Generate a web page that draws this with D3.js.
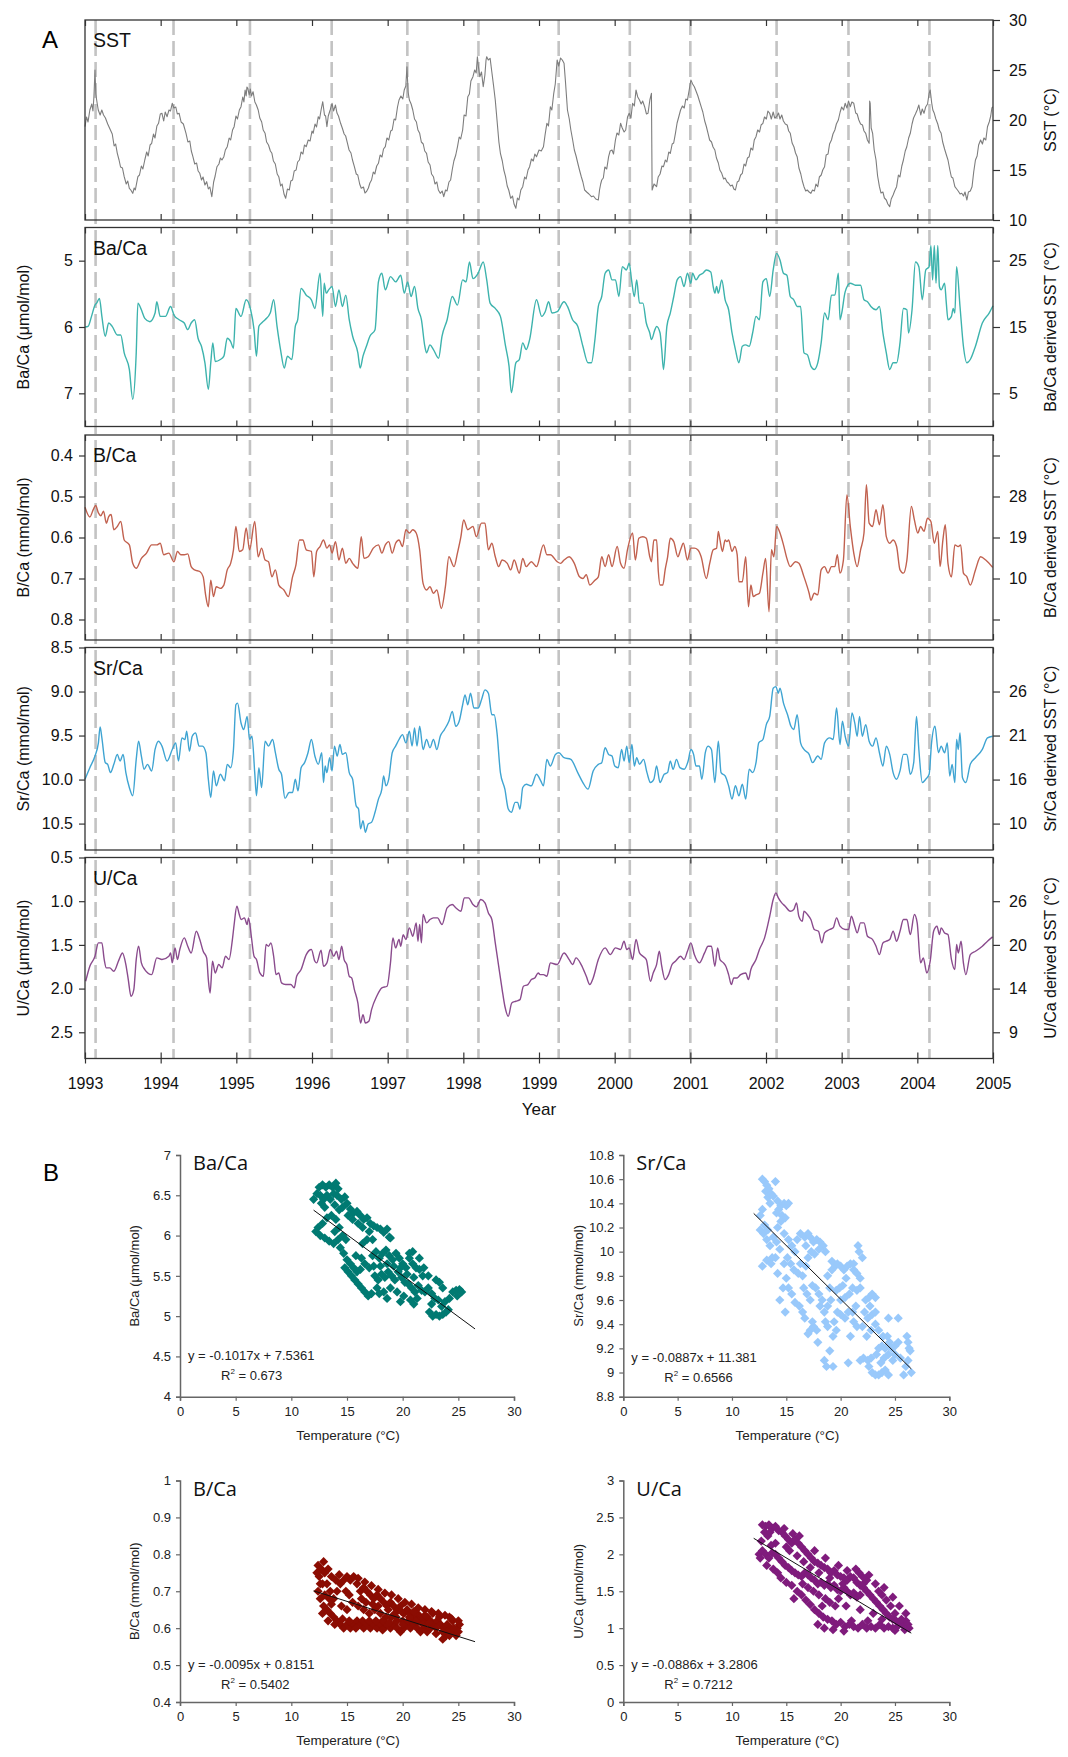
<!DOCTYPE html>
<html><head><meta charset="utf-8">
<script src="https://cdn.jsdelivr.net/npm/d3@7"></script>
<style>body{margin:0;background:#fff}svg{display:block}</style>
</head><body><svg id="chart" width="1068" height="1757"></svg>
<script>
// ---------- Panel A: time series (decimal year, value) ----------
const yearTicks = [1993,1994,1995,1996,1997,1998,1999,2000,2001,2002,2003,2004,2005];
const eventDates = [1993.14,1994.17,1995.18,1996.26,1997.26,1998.20,1999.26,2000.20,2001.00,2002.14,2003.09,2004.16];

const sstSeries = [[1993.000,19.33],[1993.020,20.3],[1993.040,19.8],[1993.064,21.0],[1993.090,21.6],[1993.105,20.9],[1993.118,22.33],[1993.132,25.0],[1993.143,22.6],[1993.154,22.0],[1993.175,21.0],[1993.200,20.5],[1993.222,21.0],[1993.245,20.5],[1993.270,20.2],[1993.300,19.6],[1993.336,19.0],[1993.360,18.6],[1993.385,17.4],[1993.405,17.6],[1993.427,16.67],[1993.450,16.0],[1993.470,15.3],[1993.495,15.2],[1993.518,14.33],[1993.545,13.6],[1993.565,13.9],[1993.586,13.17],[1993.605,13.0],[1993.631,12.67],[1993.650,13.2],[1993.665,13.0],[1993.699,14.33],[1993.720,14.5],[1993.745,15.4],[1993.765,15.1],[1993.790,16.0],[1993.815,16.8],[1993.835,16.4],[1993.860,17.5],[1993.881,17.67],[1993.905,18.6],[1993.925,18.2],[1993.950,19.4],[1993.972,19.67],[1993.995,20.6],[1994.017,20.67],[1994.040,19.9],[1994.060,20.8],[1994.085,20.33],[1994.110,21.0],[1994.130,20.9],[1994.153,21.67],[1994.175,21.2],[1994.200,21.3],[1994.220,20.6],[1994.244,20.67],[1994.270,19.8],[1994.300,19.6],[1994.335,18.67],[1994.360,17.8],[1994.385,17.9],[1994.405,16.9],[1994.426,16.33],[1994.450,15.6],[1994.475,15.7],[1994.495,14.9],[1994.517,14.67],[1994.540,14.0],[1994.560,14.3],[1994.585,13.5],[1994.608,13.83],[1994.630,13.1],[1994.650,13.3],[1994.676,12.33],[1994.700,13.8],[1994.720,14.4],[1994.744,15.33],[1994.770,15.6],[1994.790,16.2],[1994.810,16.0],[1994.835,16.33],[1994.855,17.0],[1994.880,17.33],[1994.905,18.2],[1994.925,18.0],[1994.950,19.0],[1994.971,19.33],[1994.995,20.4],[1995.015,20.1],[1995.040,21.0],[1995.062,21.33],[1995.085,22.3],[1995.100,21.8],[1995.116,23.0],[1995.130,22.4],[1995.140,23.3],[1995.152,23.17],[1995.170,22.5],[1995.185,23.1],[1995.200,22.4],[1995.221,22.83],[1995.245,21.8],[1995.265,21.5],[1995.289,21.0],[1995.310,20.2],[1995.335,19.8],[1995.355,19.0],[1995.380,18.67],[1995.400,17.8],[1995.425,17.5],[1995.450,16.9],[1995.470,16.67],[1995.490,15.9],[1995.515,15.6],[1995.540,14.6],[1995.561,14.33],[1995.585,13.4],[1995.605,13.6],[1995.630,12.6],[1995.652,12.17],[1995.675,13.1],[1995.700,13.0],[1995.720,13.9],[1995.743,14.0],[1995.765,14.9],[1995.790,15.0],[1995.810,15.8],[1995.834,16.0],[1995.855,16.8],[1995.880,16.6],[1995.900,17.5],[1995.924,17.33],[1995.950,18.0],[1995.975,17.9],[1996.000,18.9],[1996.015,18.67],[1996.040,19.6],[1996.060,19.3],[1996.083,20.33],[1996.100,20.1],[1996.120,21.0],[1996.142,21.83],[1996.165,20.5],[1996.180,20.4],[1996.197,19.33],[1996.215,20.4],[1996.240,21.0],[1996.265,21.67],[1996.285,20.9],[1996.310,21.5],[1996.330,20.7],[1996.350,20.4],[1996.378,19.67],[1996.400,19.2],[1996.425,18.6],[1996.445,18.4],[1996.469,17.67],[1996.490,17.0],[1996.515,16.7],[1996.535,16.0],[1996.560,15.33],[1996.585,14.6],[1996.605,14.5],[1996.630,13.6],[1996.651,13.17],[1996.680,13.3],[1996.700,12.7],[1996.719,12.83],[1996.745,13.2],[1996.765,13.7],[1996.787,14.0],[1996.810,14.8],[1996.830,14.6],[1996.855,15.4],[1996.878,15.67],[1996.900,16.5],[1996.925,16.3],[1996.945,17.1],[1996.969,17.33],[1996.990,18.2],[1997.015,18.0],[1997.040,18.9],[1997.060,19.0],[1997.085,20.1],[1997.105,20.0],[1997.130,21.3],[1997.150,22.0],[1997.175,22.4],[1997.200,22.1],[1997.219,23.0],[1997.240,23.4],[1997.255,25.33],[1997.270,22.8],[1997.287,22.0],[1997.310,21.6],[1997.332,21.0],[1997.355,20.1],[1997.380,19.8],[1997.400,19.0],[1997.423,18.67],[1997.445,17.8],[1997.470,17.6],[1997.490,16.9],[1997.514,16.67],[1997.535,15.8],[1997.560,15.5],[1997.580,14.6],[1997.605,14.33],[1997.625,13.6],[1997.650,13.8],[1997.670,13.0],[1997.695,12.67],[1997.720,12.9],[1997.741,12.33],[1997.765,13.0],[1997.785,12.9],[1997.810,13.8],[1997.832,14.0],[1997.855,15.1],[1997.875,15.9],[1997.900,16.5],[1997.923,17.33],[1997.945,18.3],[1997.965,18.1],[1997.991,19.0],[1998.010,20.5],[1998.035,20.4],[1998.059,22.33],[1998.080,22.6],[1998.100,23.9],[1998.127,24.33],[1998.150,25.0],[1998.170,24.7],[1998.186,26.33],[1998.200,25.3],[1998.218,24.33],[1998.240,24.8],[1998.263,23.33],[1998.285,24.5],[1998.300,26.0],[1998.309,26.33],[1998.330,26.0],[1998.354,26.17],[1998.380,24.6],[1998.400,23.4],[1998.422,22.0],[1998.445,20.0],[1998.470,17.8],[1998.490,16.67],[1998.515,15.9],[1998.535,15.0],[1998.558,14.33],[1998.580,13.4],[1998.600,13.0],[1998.626,12.17],[1998.650,12.4],[1998.670,11.6],[1998.694,11.17],[1998.715,12.2],[1998.735,12.0],[1998.760,13.0],[1998.785,13.33],[1998.810,14.3],[1998.830,14.1],[1998.855,15.0],[1998.876,15.33],[1998.900,16.1],[1998.925,15.9],[1998.945,16.6],[1998.967,16.33],[1999.000,17.0],[1999.030,16.9],[1999.059,17.33],[1999.080,18.5],[1999.104,19.67],[1999.125,19.4],[1999.150,21.33],[1999.170,21.0],[1999.195,22.67],[1999.215,23.6],[1999.240,26.0],[1999.260,25.4],[1999.285,26.2],[1999.308,26.0],[1999.331,25.67],[1999.350,23.8],[1999.376,21.0],[1999.400,20.1],[1999.421,19.0],[1999.445,18.0],[1999.467,17.0],[1999.490,16.4],[1999.512,15.7],[1999.535,15.0],[1999.560,14.3],[1999.580,13.8],[1999.603,13.0],[1999.630,12.8],[1999.660,12.6],[1999.693,12.33],[1999.720,12.4],[1999.750,12.1],[1999.784,12.0],[1999.800,13.0],[1999.815,13.6],[1999.829,14.0],[1999.850,14.2],[1999.870,15.3],[1999.895,15.1],[1999.920,16.33],[1999.940,16.9],[1999.965,17.0],[1999.985,16.6],[2000.010,18.0],[2000.030,18.7],[2000.055,18.5],[2000.078,19.67],[2000.100,19.2],[2000.125,18.8],[2000.146,19.0],[2000.170,20.3],[2000.192,20.67],[2000.215,20.2],[2000.237,21.67],[2000.260,21.4],[2000.282,23.0],[2000.305,22.3],[2000.328,22.0],[2000.350,21.6],[2000.370,21.9],[2000.396,21.33],[2000.420,20.6],[2000.441,20.67],[2000.465,22.0],[2000.486,22.67],[2000.495,13.0],[2000.520,13.6],[2000.554,13.33],[2000.575,14.3],[2000.600,14.6],[2000.625,15.4],[2000.645,15.33],[2000.670,16.0],[2000.690,15.8],[2000.715,16.8],[2000.735,16.67],[2000.760,17.6],[2000.780,17.7],[2000.803,18.67],[2000.825,19.7],[2000.850,20.4],[2000.871,21.0],[2000.895,21.4],[2000.920,21.2],[2000.940,22.1],[2000.962,22.0],[2000.985,23.0],[2001.007,24.0],[2001.030,23.6],[2001.053,23.33],[2001.075,22.9],[2001.100,22.4],[2001.120,21.9],[2001.143,21.33],[2001.165,20.8],[2001.190,19.9],[2001.210,19.4],[2001.234,18.67],[2001.255,18.0],[2001.280,17.8],[2001.300,17.3],[2001.324,17.0],[2001.345,16.2],[2001.370,15.7],[2001.390,15.0],[2001.415,14.67],[2001.440,14.1],[2001.460,14.2],[2001.485,13.8],[2001.506,13.67],[2001.530,13.4],[2001.555,13.5],[2001.575,13.1],[2001.596,13.0],[2001.620,13.8],[2001.640,13.9],[2001.665,14.5],[2001.687,14.67],[2001.710,15.6],[2001.730,15.4],[2001.755,16.2],[2001.778,16.33],[2001.800,17.2],[2001.825,17.0],[2001.845,18.0],[2001.868,18.33],[2001.890,19.0],[2001.915,18.8],[2001.935,19.5],[2001.959,19.67],[2001.980,20.3],[2002.005,20.1],[2002.025,20.9],[2002.049,20.67],[2002.070,20.1],[2002.095,20.8],[2002.115,20.2],[2002.140,20.33],[2002.165,20.7],[2002.185,20.1],[2002.208,20.5],[2002.230,19.9],[2002.255,19.6],[2002.280,19.5],[2002.300,18.9],[2002.321,18.67],[2002.345,17.7],[2002.370,17.3],[2002.390,16.7],[2002.412,16.33],[2002.435,15.2],[2002.460,14.6],[2002.480,13.9],[2002.502,13.33],[2002.525,12.9],[2002.545,13.0],[2002.570,12.8],[2002.593,12.67],[2002.615,13.0],[2002.640,12.9],[2002.660,13.6],[2002.684,13.33],[2002.705,14.3],[2002.730,14.5],[2002.750,15.0],[2002.774,15.33],[2002.795,16.5],[2002.820,16.6],[2002.840,17.6],[2002.865,18.0],[2002.885,18.6],[2002.910,19.0],[2002.930,19.6],[2002.956,20.0],[2002.980,20.8],[2003.000,21.3],[2003.025,21.0],[2003.046,21.67],[2003.070,21.2],[2003.090,21.9],[2003.114,21.33],[2003.135,21.8],[2003.160,21.67],[2003.185,20.7],[2003.205,20.6],[2003.227,20.0],[2003.250,19.6],[2003.275,19.5],[2003.295,18.9],[2003.318,18.67],[2003.340,18.0],[2003.363,17.67],[2003.370,21.9],[2003.377,21.67],[2003.390,19.2],[2003.409,18.67],[2003.430,17.0],[2003.454,16.0],[2003.475,14.4],[2003.499,13.33],[2003.520,12.7],[2003.545,12.8],[2003.565,12.2],[2003.590,12.0],[2003.610,11.6],[2003.635,11.33],[2003.655,12.1],[2003.680,12.5],[2003.700,12.9],[2003.726,13.33],[2003.750,14.5],[2003.770,14.3],[2003.795,15.4],[2003.816,16.0],[2003.840,16.9],[2003.860,17.3],[2003.885,18.2],[2003.907,18.67],[2003.930,19.6],[2003.950,20.2],[2003.975,20.6],[2003.998,21.0],[2004.020,21.5],[2004.045,20.5],[2004.065,21.1],[2004.088,20.67],[2004.110,21.3],[2004.135,21.6],[2004.156,22.67],[2004.170,23.0],[2004.190,21.7],[2004.205,21.0],[2004.224,20.67],[2004.245,20.1],[2004.270,19.6],[2004.290,19.0],[2004.315,18.67],[2004.335,17.8],[2004.360,17.1],[2004.380,16.6],[2004.405,16.0],[2004.430,15.0],[2004.450,14.3],[2004.470,14.2],[2004.496,13.33],[2004.520,13.1],[2004.540,12.9],[2004.565,12.6],[2004.587,12.67],[2004.610,12.4],[2004.630,12.8],[2004.655,12.0],[2004.675,12.8],[2004.700,12.9],[2004.723,13.33],[2004.745,14.8],[2004.768,16.0],[2004.790,16.4],[2004.810,17.5],[2004.836,18.0],[2004.860,17.6],[2004.880,18.2],[2004.905,18.0],[2004.927,19.33],[2004.950,19.8],[2004.970,20.4],[2004.985,21.2],[2004.995,21.33]];

const baCaSeries = [[1993.000,6.00],[1993.041,5.99],[1993.086,5.84],[1993.132,5.67],[1993.154,5.64],[1993.191,5.57],[1993.223,5.84],[1993.268,6.14],[1993.313,5.94],[1993.359,5.99],[1993.427,6.12],[1993.472,6.12],[1993.518,6.39],[1993.586,6.64],[1993.631,7.09],[1993.677,6.39],[1993.699,5.64],[1993.745,5.74],[1993.790,5.87],[1993.858,5.92],[1993.926,5.79],[1993.949,5.62],[1993.994,5.84],[1994.063,5.84],[1994.131,5.69],[1994.176,5.82],[1994.244,5.89],[1994.312,5.94],[1994.358,6.04],[1994.403,5.94],[1994.449,5.89],[1994.494,6.17],[1994.539,6.29],[1994.585,6.54],[1994.630,6.94],[1994.662,6.54],[1994.689,6.24],[1994.721,6.52],[1994.789,6.49],[1994.835,6.44],[1994.880,6.17],[1994.925,6.22],[1994.962,6.32],[1994.994,5.72],[1995.062,5.84],[1995.130,5.59],[1995.189,5.74],[1995.234,6.04],[1995.266,6.44],[1995.298,5.99],[1995.334,5.94],[1995.380,5.89],[1995.448,5.79],[1995.493,5.59],[1995.538,5.99],[1995.584,6.34],[1995.634,6.62],[1995.675,6.44],[1995.734,6.49],[1995.779,5.99],[1995.811,5.89],[1995.856,5.42],[1995.924,5.52],[1995.992,5.59],[1996.038,5.72],[1996.106,5.19],[1996.142,5.84],[1996.161,5.34],[1996.188,5.49],[1996.220,5.44],[1996.265,5.39],[1996.310,5.69],[1996.356,5.44],[1996.401,5.69],[1996.447,5.52],[1996.492,5.89],[1996.537,6.14],[1996.606,6.39],[1996.637,6.62],[1996.674,6.44],[1996.719,6.29],[1996.765,6.14],[1996.833,6.04],[1996.878,5.32],[1996.923,5.19],[1996.969,5.44],[1997.037,5.24],[1997.105,5.32],[1997.173,5.22],[1997.219,5.49],[1997.264,5.32],[1997.309,5.54],[1997.355,5.39],[1997.400,5.72],[1997.446,5.89],[1997.491,6.29],[1997.514,6.39],[1997.559,6.27],[1997.605,6.34],[1997.673,6.47],[1997.718,6.14],[1997.786,5.89],[1997.854,5.54],[1997.922,5.67],[1997.991,5.29],[1998.036,5.32],[1998.081,5.02],[1998.127,5.27],[1998.195,5.19],[1998.263,5.02],[1998.309,5.29],[1998.354,5.64],[1998.422,5.72],[1998.490,5.84],[1998.558,6.29],[1998.604,6.59],[1998.635,6.99],[1998.694,6.54],[1998.740,6.49],[1998.785,6.24],[1998.831,6.34],[1998.876,6.19],[1998.967,5.59],[1999.036,5.84],[1999.082,5.77],[1999.127,5.62],[1999.172,5.79],[1999.240,5.77],[1999.331,5.62],[1999.376,5.69],[1999.444,5.89],[1999.512,5.99],[1999.580,6.29],[1999.648,6.54],[1999.693,6.54],[1999.739,6.19],[1999.784,5.69],[1999.829,5.54],[1999.874,5.19],[1999.920,5.14],[1999.965,5.29],[2000.010,5.29],[2000.056,5.54],[2000.101,5.09],[2000.155,5.14],[2000.192,5.04],[2000.223,5.29],[2000.260,5.54],[2000.291,5.29],[2000.328,5.64],[2000.373,5.64],[2000.418,5.94],[2000.464,6.09],[2000.486,6.19],[2000.532,6.04],[2000.554,5.99],[2000.600,6.09],[2000.622,6.34],[2000.645,6.64],[2000.690,5.99],[2000.735,5.79],[2000.781,5.54],[2000.826,5.29],[2000.871,5.24],[2000.917,5.39],[2000.962,5.19],[2001.007,5.34],[2001.030,5.19],[2001.075,5.29],[2001.120,5.22],[2001.166,5.19],[2001.211,5.14],[2001.270,5.17],[2001.302,5.39],[2001.324,5.49],[2001.347,5.39],[2001.370,5.49],[2001.415,5.29],[2001.460,5.59],[2001.506,5.74],[2001.551,6.09],[2001.596,6.34],[2001.642,6.54],[2001.687,6.29],[2001.732,6.27],[2001.778,6.29],[2001.823,6.09],[2001.868,5.84],[2001.913,5.89],[2001.959,5.32],[2002.004,5.27],[2002.049,5.54],[2002.095,5.14],[2002.140,4.89],[2002.185,4.99],[2002.231,5.19],[2002.276,5.22],[2002.321,5.54],[2002.367,5.59],[2002.412,5.69],[2002.457,5.69],[2002.502,6.39],[2002.548,6.42],[2002.593,6.59],[2002.638,6.64],[2002.684,6.54],[2002.729,6.24],[2002.774,5.79],[2002.820,5.89],[2002.865,5.52],[2002.910,5.52],[2002.956,5.19],[2002.978,5.89],[2003.001,5.79],[2003.046,5.47],[2003.114,5.34],[2003.182,5.37],[2003.250,5.37],[2003.295,5.59],[2003.341,5.62],[2003.386,5.69],[2003.454,5.74],[2003.499,5.69],[2003.545,6.09],[2003.590,6.39],[2003.635,6.64],[2003.680,6.54],[2003.726,6.54],[2003.771,6.24],[2003.816,5.72],[2003.862,5.74],[2003.884,6.09],[2003.930,5.74],[2003.975,5.02],[2004.020,5.09],[2004.066,5.59],[2004.111,5.14],[2004.156,5.09],[2004.179,4.77],[2004.202,5.29],[2004.224,4.77],[2004.247,5.34],[2004.270,4.77],[2004.292,5.39],[2004.315,5.44],[2004.360,5.34],[2004.383,5.64],[2004.405,5.89],[2004.451,5.84],[2004.474,5.72],[2004.496,5.79],[2004.519,5.09],[2004.564,5.69],[2004.609,6.29],[2004.655,6.54],[2004.700,6.49],[2004.768,6.29],[2004.859,5.94],[2004.949,5.79],[2005.000,5.68]];

const bCaSeries = [[1993.000,0.526],[1993.064,0.550],[1993.109,0.532],[1993.141,0.522],[1993.177,0.540],[1993.209,0.547],[1993.245,0.536],[1993.282,0.565],[1993.313,0.549],[1993.345,0.544],[1993.381,0.581],[1993.427,0.573],[1993.472,0.561],[1993.518,0.606],[1993.586,0.618],[1993.631,0.663],[1993.677,0.675],[1993.745,0.651],[1993.813,0.638],[1993.881,0.618],[1993.949,0.618],[1993.994,0.614],[1994.040,0.642],[1994.108,0.638],[1994.176,0.659],[1994.222,0.634],[1994.267,0.642],[1994.312,0.642],[1994.358,0.640],[1994.403,0.671],[1994.449,0.679],[1994.517,0.683],[1994.562,0.696],[1994.594,0.740],[1994.630,0.769],[1994.662,0.704],[1994.698,0.744],[1994.735,0.720],[1994.789,0.724],[1994.835,0.716],[1994.880,0.679],[1994.925,0.663],[1994.962,0.630],[1994.994,0.573],[1995.039,0.634],[1995.084,0.630],[1995.130,0.577],[1995.175,0.630],[1995.243,0.561],[1995.289,0.647],[1995.334,0.626],[1995.380,0.655],[1995.425,0.659],[1995.470,0.696],[1995.516,0.679],[1995.561,0.716],[1995.629,0.728],[1995.688,0.744],[1995.743,0.696],[1995.788,0.667],[1995.834,0.606],[1995.879,0.606],[1995.924,0.630],[1995.992,0.634],[1996.024,0.696],[1996.061,0.634],[1996.106,0.622],[1996.152,0.606],[1996.197,0.626],[1996.233,0.618],[1996.265,0.638],[1996.310,0.610],[1996.356,0.655],[1996.401,0.626],[1996.447,0.663],[1996.492,0.651],[1996.537,0.663],[1996.606,0.675],[1996.651,0.598],[1996.687,0.651],[1996.742,0.647],[1996.810,0.626],[1996.878,0.618],[1996.923,0.638],[1996.969,0.618],[1997.014,0.610],[1997.060,0.638],[1997.105,0.614],[1997.150,0.606],[1997.196,0.622],[1997.241,0.581],[1997.287,0.589],[1997.332,0.581],[1997.377,0.589],[1997.423,0.630],[1997.468,0.712],[1997.514,0.728],[1997.559,0.720],[1997.605,0.736],[1997.650,0.728],[1997.709,0.773],[1997.763,0.720],[1997.809,0.647],[1997.877,0.671],[1997.922,0.638],[1997.968,0.598],[1998.004,0.557],[1998.059,0.581],[1998.127,0.573],[1998.172,0.598],[1998.240,0.565],[1998.286,0.565],[1998.331,0.630],[1998.377,0.614],[1998.422,0.647],[1998.467,0.671],[1998.513,0.655],[1998.581,0.663],[1998.626,0.679],[1998.672,0.655],[1998.740,0.687],[1998.785,0.651],[1998.831,0.671],[1998.899,0.659],[1998.967,0.671],[1999.059,0.618],[1999.104,0.642],[1999.150,0.642],[1999.240,0.659],[1999.285,0.663],[1999.331,0.655],[1999.399,0.647],[1999.467,0.663],[1999.535,0.696],[1999.580,0.700],[1999.625,0.691],[1999.671,0.716],[1999.739,0.704],[1999.784,0.696],[1999.829,0.647],[1999.874,0.671],[1999.920,0.642],[1999.965,0.671],[2000.033,0.622],[2000.078,0.663],[2000.124,0.675],[2000.169,0.630],[2000.237,0.589],[2000.273,0.655],[2000.319,0.602],[2000.373,0.598],[2000.418,0.602],[2000.464,0.647],[2000.486,0.659],[2000.518,0.606],[2000.554,0.606],[2000.577,0.683],[2000.600,0.716],[2000.636,0.716],[2000.667,0.679],[2000.700,0.647],[2000.735,0.602],[2000.781,0.610],[2000.835,0.647],[2000.871,0.630],[2000.908,0.614],[2000.962,0.655],[2001.007,0.626],[2001.053,0.626],[2001.098,0.630],[2001.143,0.647],[2001.211,0.700],[2001.256,0.663],[2001.302,0.630],[2001.347,0.626],[2001.370,0.585],[2001.392,0.606],[2001.424,0.634],[2001.460,0.606],[2001.483,0.610],[2001.506,0.606],[2001.551,0.634],[2001.587,0.622],[2001.619,0.642],[2001.642,0.708],[2001.687,0.708],[2001.732,0.647],[2001.768,0.769],[2001.800,0.716],[2001.832,0.744],[2001.868,0.740],[2001.913,0.736],[2001.959,0.687],[2001.995,0.651],[2002.040,0.781],[2002.072,0.630],[2002.104,0.647],[2002.140,0.573],[2002.185,0.589],[2002.231,0.618],[2002.276,0.651],[2002.321,0.671],[2002.389,0.659],[2002.435,0.663],[2002.502,0.696],[2002.570,0.736],[2002.593,0.753],[2002.638,0.736],[2002.684,0.740],[2002.729,0.679],[2002.774,0.671],[2002.820,0.687],[2002.865,0.671],[2002.910,0.671],[2002.942,0.642],[2002.978,0.687],[2003.023,0.655],[2003.069,0.496],[2003.114,0.573],[2003.160,0.638],[2003.205,0.671],[2003.250,0.630],[2003.295,0.589],[2003.327,0.471],[2003.363,0.565],[2003.409,0.573],[2003.454,0.532],[2003.499,0.569],[2003.545,0.520],[2003.590,0.598],[2003.635,0.614],[2003.680,0.606],[2003.726,0.622],[2003.771,0.679],[2003.816,0.687],[2003.862,0.655],[2003.921,0.524],[2003.961,0.557],[2004.007,0.589],[2004.043,0.573],[2004.088,0.585],[2004.134,0.553],[2004.179,0.561],[2004.224,0.614],[2004.270,0.585],[2004.301,0.671],[2004.338,0.606],[2004.369,0.569],[2004.405,0.663],[2004.451,0.696],[2004.496,0.618],[2004.541,0.622],[2004.573,0.618],[2004.609,0.687],[2004.655,0.696],[2004.700,0.716],[2004.768,0.679],[2004.836,0.647],[2004.904,0.655],[2004.995,0.673]];

const srCaSeries = [[1993.000,9.996],[1993.064,9.865],[1993.132,9.733],[1993.177,9.583],[1993.200,9.402],[1993.223,9.526],[1993.268,9.808],[1993.300,9.827],[1993.336,9.921],[1993.381,9.827],[1993.427,9.714],[1993.463,9.789],[1993.504,9.714],[1993.540,9.921],[1993.586,10.090],[1993.631,10.184],[1993.677,9.771],[1993.708,9.564],[1993.745,9.733],[1993.781,9.883],[1993.826,9.827],[1993.881,9.902],[1993.926,9.658],[1993.972,9.564],[1994.017,9.620],[1994.085,9.789],[1994.153,9.658],[1994.199,9.583],[1994.235,9.789],[1994.281,9.526],[1994.321,9.545],[1994.344,9.451],[1994.380,9.677],[1994.417,9.508],[1994.462,9.470],[1994.508,9.620],[1994.553,9.620],[1994.598,9.695],[1994.630,9.996],[1994.662,10.203],[1994.698,9.902],[1994.735,10.071],[1994.789,9.940],[1994.844,10.015],[1994.880,9.827],[1994.925,9.865],[1994.962,9.658],[1994.994,9.150],[1995.016,9.132],[1995.062,9.357],[1995.098,9.432],[1995.143,9.282],[1995.175,9.545],[1995.207,9.508],[1995.243,9.921],[1995.266,10.184],[1995.298,9.865],[1995.334,10.090],[1995.380,9.564],[1995.425,9.620],[1995.479,9.545],[1995.516,9.695],[1995.561,9.883],[1995.597,9.940],[1995.643,10.214],[1995.697,10.147],[1995.743,10.147],[1995.779,9.996],[1995.815,10.128],[1995.856,9.865],[1995.902,9.808],[1995.947,9.695],[1995.992,9.545],[1996.038,9.733],[1996.083,9.827],[1996.129,9.695],[1996.152,10.034],[1996.174,9.846],[1996.197,9.921],[1996.233,9.752],[1996.265,9.902],[1996.297,9.620],[1996.333,9.733],[1996.369,9.602],[1996.401,9.714],[1996.447,9.695],[1996.492,9.921],[1996.537,9.996],[1996.583,10.297],[1996.615,10.335],[1996.642,10.560],[1996.674,10.466],[1996.705,10.598],[1996.742,10.504],[1996.787,10.485],[1996.833,10.372],[1996.878,10.222],[1996.923,10.109],[1996.946,9.959],[1996.978,10.071],[1997.014,9.996],[1997.060,9.695],[1997.105,9.620],[1997.150,9.545],[1997.196,9.489],[1997.241,9.583],[1997.287,9.451],[1997.323,9.620],[1997.355,9.414],[1997.387,9.620],[1997.423,9.395],[1997.468,9.658],[1997.514,9.545],[1997.559,9.639],[1997.605,9.545],[1997.650,9.658],[1997.695,9.508],[1997.750,9.432],[1997.809,9.338],[1997.854,9.226],[1997.900,9.395],[1997.945,9.338],[1997.991,9.150],[1998.022,9.038],[1998.059,9.150],[1998.095,9.019],[1998.140,9.188],[1998.195,9.188],[1998.240,9.094],[1998.286,8.981],[1998.331,9.019],[1998.377,9.263],[1998.408,9.263],[1998.445,9.470],[1998.490,9.921],[1998.549,10.109],[1998.594,10.335],[1998.635,10.372],[1998.685,10.259],[1998.717,10.259],[1998.749,10.335],[1998.785,10.090],[1998.831,10.053],[1998.899,10.071],[1998.967,9.940],[1999.023,10.015],[1999.059,10.071],[1999.104,9.771],[1999.150,9.846],[1999.217,9.714],[1999.263,9.695],[1999.331,9.752],[1999.421,9.771],[1999.512,9.921],[1999.580,10.034],[1999.648,10.109],[1999.716,9.902],[1999.784,9.827],[1999.829,9.808],[1999.874,9.639],[1999.920,9.714],[1999.965,9.733],[2000.001,9.846],[2000.047,9.865],[2000.092,9.658],[2000.124,9.789],[2000.160,9.620],[2000.192,9.808],[2000.228,9.602],[2000.260,9.846],[2000.291,9.752],[2000.328,9.827],[2000.382,9.771],[2000.427,9.921],[2000.473,10.034],[2000.518,9.996],[2000.554,9.846],[2000.600,10.034],[2000.654,9.940],[2000.699,9.921],[2000.735,9.789],[2000.772,9.883],[2000.817,9.771],[2000.862,9.865],[2000.917,9.883],[2000.971,9.789],[2001.007,9.658],[2001.043,9.714],[2001.075,9.846],[2001.120,9.846],[2001.152,9.996],[2001.198,9.695],[2001.234,9.620],[2001.279,9.658],[2001.324,10.034],[2001.370,9.564],[2001.406,9.921],[2001.460,9.959],[2001.506,10.071],[2001.551,10.222],[2001.596,10.071],[2001.642,10.184],[2001.687,10.053],[2001.732,10.222],[2001.778,9.883],[2001.823,9.921],[2001.868,9.808],[2001.904,9.583],[2001.959,9.545],[2002.004,9.376],[2002.049,9.282],[2002.095,8.962],[2002.131,8.944],[2002.163,9.019],[2002.185,8.962],[2002.231,9.132],[2002.285,9.263],[2002.330,9.395],[2002.367,9.432],[2002.412,9.263],[2002.457,9.583],[2002.502,9.658],[2002.570,9.714],[2002.616,9.808],[2002.684,9.733],[2002.729,9.771],[2002.774,9.583],[2002.842,9.526],[2002.888,9.545],[2002.933,9.188],[2002.978,9.602],[2003.010,9.338],[2003.046,9.508],[2003.091,9.620],[2003.137,9.244],[2003.173,9.357],[2003.205,9.508],[2003.236,9.282],[2003.273,9.508],[2003.318,9.376],[2003.363,9.564],[2003.409,9.620],[2003.454,9.526],[2003.499,9.695],[2003.545,9.846],[2003.590,9.620],[2003.635,9.714],[2003.680,9.921],[2003.726,9.996],[2003.771,9.902],[2003.816,9.714],[2003.862,9.714],[2003.907,9.940],[2003.952,9.808],[2003.989,9.282],[2004.020,9.658],[2004.066,10.034],[2004.111,9.996],[2004.156,9.940],[2004.188,9.583],[2004.233,9.395],[2004.279,9.695],[2004.315,9.620],[2004.360,9.695],[2004.396,9.583],[2004.428,9.959],[2004.460,9.827],[2004.496,10.034],[2004.519,9.545],[2004.541,9.658],[2004.564,9.470],[2004.596,9.977],[2004.641,10.034],[2004.700,9.827],[2004.768,9.752],[2004.859,9.658],[2004.927,9.526],[2004.995,9.508]];

const uCaSeries = [[1993.009,1.916],[1993.064,1.744],[1993.132,1.630],[1993.177,1.477],[1993.223,1.477],[1993.254,1.668],[1993.282,1.763],[1993.327,1.763],[1993.381,1.802],[1993.450,1.668],[1993.495,1.592],[1993.540,1.725],[1993.572,1.897],[1993.608,2.088],[1993.645,2.011],[1993.677,1.668],[1993.708,1.515],[1993.745,1.706],[1993.790,1.782],[1993.881,1.840],[1993.949,1.649],[1994.017,1.668],[1994.108,1.630],[1994.131,1.592],[1994.153,1.706],[1994.190,1.534],[1994.222,1.668],[1994.253,1.553],[1994.312,1.420],[1994.358,1.515],[1994.403,1.592],[1994.471,1.344],[1994.517,1.439],[1994.562,1.573],[1994.608,1.649],[1994.630,1.897],[1994.653,2.050],[1994.685,1.687],[1994.721,1.821],[1994.767,1.725],[1994.812,1.763],[1994.857,1.630],[1994.903,1.668],[1994.948,1.439],[1994.971,1.267],[1995.007,1.057],[1995.039,1.153],[1995.062,1.210],[1995.107,1.191],[1995.143,1.267],[1995.162,1.191],[1995.198,1.401],[1995.234,1.630],[1995.266,1.668],[1995.311,1.821],[1995.357,1.859],[1995.393,1.496],[1995.425,1.515],[1995.457,1.477],[1995.493,1.630],[1995.525,1.840],[1995.561,1.821],[1995.597,1.935],[1995.652,1.954],[1995.720,1.954],[1995.765,1.992],[1995.797,1.859],[1995.856,1.782],[1995.924,1.611],[1995.992,1.553],[1996.038,1.687],[1996.061,1.706],[1996.120,1.561],[1996.152,1.744],[1996.197,1.706],[1996.242,1.553],[1996.288,1.630],[1996.324,1.573],[1996.356,1.668],[1996.392,1.515],[1996.424,1.668],[1996.460,1.725],[1996.492,1.859],[1996.524,1.878],[1996.560,2.011],[1996.606,2.164],[1996.642,2.393],[1996.674,2.298],[1996.705,2.393],[1996.751,2.374],[1996.787,2.240],[1996.855,2.088],[1996.923,1.992],[1996.992,1.973],[1997.037,1.706],[1997.069,1.420],[1997.105,1.534],[1997.150,1.439],[1997.173,1.515],[1997.205,1.382],[1997.241,1.439],[1997.287,1.305],[1997.332,1.401],[1997.377,1.248],[1997.400,1.458],[1997.423,1.267],[1997.446,1.477],[1997.468,1.153],[1997.514,1.248],[1997.559,1.210],[1997.605,1.191],[1997.659,1.191],[1997.718,1.267],[1997.786,1.076],[1997.854,1.038],[1997.900,1.076],[1997.968,1.115],[1998.013,0.962],[1998.068,0.962],[1998.127,1.038],[1998.172,1.065],[1998.231,0.981],[1998.286,1.019],[1998.331,1.134],[1998.377,1.210],[1998.422,1.477],[1998.467,1.744],[1998.513,2.011],[1998.549,2.202],[1998.594,2.317],[1998.640,2.164],[1998.694,2.145],[1998.749,2.126],[1998.794,1.973],[1998.853,1.954],[1998.899,1.897],[1998.944,1.878],[1998.990,1.821],[1999.014,1.840],[1999.059,1.840],[1999.104,1.859],[1999.150,1.706],[1999.240,1.725],[1999.331,1.592],[1999.399,1.668],[1999.444,1.725],[1999.489,1.649],[1999.557,1.725],[1999.625,1.859],[1999.671,1.954],[1999.716,1.878],[1999.784,1.668],[1999.874,1.534],[1999.942,1.611],[2000.010,1.534],[2000.078,1.553],[2000.124,1.458],[2000.160,1.553],[2000.192,1.534],[2000.237,1.668],[2000.282,1.439],[2000.328,1.592],[2000.373,1.630],[2000.418,1.668],[2000.473,1.916],[2000.509,1.821],[2000.554,1.725],[2000.590,1.573],[2000.622,1.744],[2000.667,1.897],[2000.713,1.840],[2000.758,1.725],[2000.803,1.687],[2000.871,1.630],[2000.917,1.668],[2000.962,1.573],[2001.007,1.477],[2001.053,1.611],[2001.120,1.706],[2001.188,1.592],[2001.234,1.515],[2001.279,1.515],[2001.324,1.744],[2001.361,1.534],[2001.392,1.668],[2001.438,1.706],[2001.469,1.744],[2001.506,1.840],[2001.542,1.954],[2001.574,1.878],[2001.619,1.878],[2001.664,1.840],[2001.732,1.821],[2001.768,1.897],[2001.800,1.782],[2001.868,1.668],[2001.913,1.553],[2001.981,1.420],[2002.049,1.172],[2002.095,0.981],[2002.131,0.905],[2002.163,0.962],[2002.208,1.019],[2002.253,1.057],[2002.321,1.115],[2002.367,1.095],[2002.403,1.019],[2002.434,1.172],[2002.480,1.229],[2002.502,1.115],[2002.548,1.153],[2002.593,1.210],[2002.638,1.324],[2002.693,1.344],[2002.738,1.477],[2002.774,1.363],[2002.842,1.324],[2002.888,1.305],[2002.933,1.191],[2002.978,1.286],[2003.046,1.324],[2003.091,1.324],[2003.128,1.172],[2003.173,1.286],[2003.205,1.363],[2003.250,1.248],[2003.295,1.248],[2003.341,1.401],[2003.409,1.439],[2003.454,1.515],[2003.499,1.611],[2003.545,1.477],[2003.590,1.458],[2003.635,1.439],[2003.680,1.344],[2003.726,1.458],[2003.771,1.344],[2003.816,1.210],[2003.862,1.210],[2003.907,1.382],[2003.961,1.153],[2003.998,1.248],[2004.043,1.706],[2004.079,1.649],[2004.125,1.821],[2004.170,1.687],[2004.215,1.344],[2004.260,1.286],[2004.292,1.382],[2004.315,1.305],[2004.360,1.363],[2004.405,1.382],[2004.451,1.668],[2004.496,1.782],[2004.519,1.496],[2004.541,1.592],[2004.578,1.458],[2004.609,1.706],[2004.641,1.840],[2004.700,1.611],[2004.768,1.573],[2004.859,1.515],[2004.927,1.458],[2004.995,1.408]];

// Axis tick values / labels
const sstTicks = [10,15,20,25,30];
const baCaTicks = [5,6,7];
const baCaSstAt = [5,6,7],        baCaSstLabels = ["25","15","5"];
const bCaTicks = [0.4,0.5,0.6,0.7,0.8];
const bCaSstAt = [0.4,0.5,0.6,0.7,0.8], bCaSstLabels = ["","28","19","10",""];
const srCaTicks = [8.5,9.0,9.5,10.0,10.5];
const srCaSstAt = [9.0,9.5,10.0,10.5], srCaSstLabels = ["26","21","16","10"];
const uCaTicks = [0.5,1.0,1.5,2.0,2.5];
const uCaSstAt = [1.0,1.5,2.0,2.5], uCaSstLabels = ["26","20","14","9"];

// ---------- Panel B: proxy vs temperature scatter (°C, ratio) ----------
const baCaPoints = [[12.0,6.45],[12.3,6.52],[12.5,6.6],[12.8,6.63],[13.1,6.6],[13.4,6.63],[13.7,6.6],[14.0,6.65],[14.2,6.58],[12.6,6.5],[12.9,6.45],[13.2,6.5],[13.5,6.45],[13.8,6.52],[14.1,6.5],[14.5,6.45],[14.8,6.48],[15.0,6.4],[14.6,6.35],[14.3,6.32],[13.9,6.38],[13.0,6.35],[12.7,6.4],[15.3,6.33],[15.6,6.28],[15.9,6.3],[16.2,6.25],[16.5,6.2],[16.8,6.22],[17.1,6.15],[17.4,6.12],[17.7,6.1],[18.0,6.08],[18.3,6.04],[18.6,6.08],[18.8,5.98],[16.0,6.15],[16.4,6.1],[17.0,6.05],[15.5,6.2],[15.1,6.25],[14.0,6.2],[13.6,6.25],[13.2,6.22],[12.8,6.15],[12.4,6.1],[12.2,6.05],[12.6,6.0],[13.0,5.97],[13.4,5.93],[13.8,5.9],[14.2,5.95],[14.6,6.0],[14.9,5.95],[14.4,5.85],[14.7,5.78],[15.0,5.7],[14.8,5.6],[15.1,5.55],[15.4,5.5],[15.7,5.45],[16.0,5.4],[16.3,5.35],[16.6,5.3],[16.9,5.25],[17.2,5.28],[15.3,5.65],[15.6,5.6],[15.9,5.55],[16.2,5.58],[15.8,5.75],[16.3,5.72],[16.6,5.65],[17.0,5.6],[13.9,6.05],[14.3,6.1],[17.3,5.75],[17.6,5.8],[17.9,5.72],[18.2,5.78],[18.5,5.82],[18.8,5.75],[19.1,5.7],[19.4,5.78],[19.7,5.72],[20.0,5.65],[20.3,5.6],[20.6,5.72],[20.9,5.65],[21.2,5.6],[21.5,5.58],[21.8,5.5],[17.5,5.5],[17.8,5.45],[18.1,5.52],[18.4,5.48],[18.7,5.55],[19.0,5.5],[19.3,5.45],[19.6,5.55],[19.9,5.48],[20.2,5.42],[20.5,5.4],[20.8,5.35],[21.1,5.3],[21.4,5.38],[21.7,5.32],[22.0,5.3],[17.4,5.62],[18.0,5.62],[18.6,5.65],[19.2,5.62],[19.8,5.6],[20.4,5.52],[21.0,5.48],[17.7,5.35],[18.3,5.3],[18.9,5.35],[19.5,5.3],[20.1,5.25],[20.7,5.2],[21.0,5.15],[19.8,5.18],[18.6,5.22],[17.9,5.28],[21.3,5.22],[22.3,5.35],[22.6,5.28],[22.9,5.22],[23.2,5.2],[22.6,5.15],[22.4,5.05],[22.7,5.0],[23.0,5.02],[23.3,5.0],[23.6,5.02],[23.9,5.05],[24.1,5.08],[23.5,5.12],[23.8,5.18],[24.2,5.22],[24.5,5.3],[24.8,5.32],[25.1,5.33],[25.3,5.3],[24.9,5.25],[23.6,5.35],[23.3,5.42],[21.5,5.72],[20.6,5.78],[20.9,5.8],[21.9,5.6],[22.3,5.5],[23.0,5.45],[17.3,5.95],[18.9,5.97],[16.8,5.95],[16.4,5.9]];

const srCaPoints = [[12.8,10.6],[13.0,10.58],[13.2,10.55],[13.1,10.5],[13.4,10.52],[13.6,10.48],[13.3,10.45],[13.8,10.46],[14.0,10.58],[13.5,10.4],[14.2,10.42],[14.5,10.38],[14.3,10.35],[14.8,10.4],[15.0,10.38],[14.6,10.3],[14.9,10.28],[14.5,10.25],[14.1,10.32],[15.2,10.4],[12.8,10.35],[12.6,10.3],[13.0,10.22],[12.9,10.15],[12.6,10.18],[13.2,10.1],[13.5,10.05],[13.3,10.18],[13.8,10.12],[14.1,10.08],[14.4,10.02],[14.0,9.95],[13.7,9.95],[14.2,10.2],[14.8,10.15],[15.2,10.1],[15.5,10.05],[15.8,10.0],[15.1,9.95],[15.4,9.9],[15.7,9.85],[16.1,9.82],[16.5,9.8],[16.3,9.9],[16.0,10.1],[16.3,10.15],[16.7,10.12],[17.0,10.15],[17.2,10.12],[16.8,10.05],[17.5,10.08],[17.8,10.1],[18.1,10.08],[18.4,10.05],[18.6,10.0],[18.0,10.02],[17.6,9.98],[17.3,10.0],[17.0,9.95],[16.8,9.88],[16.6,9.7],[16.9,9.65],[17.2,9.6],[17.4,9.72],[17.7,9.7],[18.0,9.65],[18.3,9.6],[18.1,9.55],[18.5,9.5],[18.8,9.55],[19.1,9.6],[19.0,9.7],[18.8,9.8],[19.2,9.85],[19.5,9.88],[19.2,9.92],[19.7,9.9],[20.0,9.88],[20.3,9.85],[20.6,9.88],[20.9,9.9],[21.2,9.85],[21.5,9.82],[21.8,9.78],[20.5,9.78],[20.2,9.72],[19.9,9.7],[19.6,9.68],[20.0,9.6],[20.4,9.62],[20.8,9.65],[21.1,9.7],[21.5,9.68],[21.8,9.7],[21.6,10.05],[21.7,10.0],[21.2,9.9],[22.0,9.95],[22.3,9.6],[22.6,9.62],[22.9,9.65],[23.2,9.62],[22.7,9.55],[22.2,9.5],[22.5,9.45],[22.9,9.48],[23.2,9.5],[21.4,9.55],[21.1,9.5],[20.7,9.5],[20.4,9.45],[20.0,9.48],[19.7,9.5],[19.4,9.42],[19.6,9.35],[19.3,9.3],[18.8,9.38],[18.6,9.42],[17.8,9.35],[17.5,9.38],[17.2,9.35],[17.0,9.32],[17.4,9.42],[16.7,9.45],[16.5,9.5],[16.2,9.55],[15.8,9.58],[15.5,9.65],[15.2,9.7],[15.0,9.78],[14.8,9.9],[14.4,9.6],[14.7,9.7],[14.9,9.5],[12.8,9.88],[13.2,9.93],[13.6,9.9],[14.2,9.82],[17.9,9.25],[18.5,9.1],[18.7,9.05],[19.3,9.05],[19.0,9.18],[20.7,9.08],[21.8,9.1],[22.1,9.12],[22.5,9.1],[22.8,9.12],[22.6,9.05],[22.9,9.0],[23.2,8.98],[23.5,8.98],[23.8,9.0],[24.1,9.02],[24.4,8.98],[23.7,9.08],[24.0,9.12],[23.3,9.15],[23.5,9.2],[23.8,9.22],[24.1,9.2],[24.4,9.15],[24.7,9.2],[25.0,9.22],[25.3,9.25],[25.0,9.15],[24.5,9.25],[24.3,9.3],[23.9,9.3],[23.5,9.35],[23.2,9.4],[22.8,9.35],[22.4,9.3],[24.4,9.45],[25.3,9.45],[26.1,9.3],[26.2,9.25],[26.3,9.2],[26.4,9.18],[26.2,9.1],[26.0,9.05],[26.5,9.0],[25.8,8.98],[21.5,9.38],[21.2,9.42],[20.9,9.3],[24.8,9.1],[25.5,9.12],[22.0,9.38]];

const bCaPoints = [[12.4,0.77],[12.7,0.76],[13.0,0.75],[12.5,0.74],[12.8,0.72],[13.2,0.72],[13.5,0.7],[13.8,0.68],[14.1,0.7],[14.4,0.72],[14.7,0.73],[15.0,0.74],[15.3,0.73],[15.6,0.74],[15.9,0.72],[16.2,0.7],[16.5,0.71],[16.8,0.7],[17.1,0.69],[17.4,0.68],[17.7,0.69],[18.0,0.68],[18.3,0.67],[18.6,0.66],[18.9,0.67],[19.2,0.66],[19.5,0.65],[19.8,0.66],[20.1,0.64],[20.4,0.65],[20.7,0.64],[21.0,0.63],[21.3,0.64],[21.6,0.63],[21.9,0.62],[22.2,0.63],[22.5,0.62],[22.8,0.61],[23.1,0.62],[23.4,0.61],[23.7,0.6],[24.0,0.61],[24.3,0.6],[24.6,0.59],[24.9,0.6],[25.1,0.61],[24.5,0.62],[24.8,0.58],[23.9,0.58],[23.6,0.57],[12.4,0.7],[12.6,0.68],[12.9,0.66],[13.2,0.65],[13.5,0.64],[13.8,0.63],[14.1,0.62],[14.4,0.61],[14.7,0.6],[15.0,0.61],[15.3,0.6],[15.6,0.61],[15.9,0.62],[16.2,0.61],[16.5,0.6],[16.8,0.61],[17.1,0.6],[17.4,0.61],[17.7,0.6],[18.0,0.61],[18.3,0.6],[18.6,0.61],[18.9,0.6],[19.2,0.61],[19.5,0.6],[19.8,0.59],[20.1,0.6],[20.4,0.61],[20.7,0.6],[21.0,0.61],[21.3,0.6],[21.6,0.59],[21.9,0.6],[22.2,0.59],[22.5,0.6],[14.5,0.66],[15.0,0.65],[15.5,0.67],[16.0,0.66],[16.5,0.65],[17.0,0.64],[17.5,0.65],[18.0,0.64],[18.5,0.63],[19.0,0.63],[19.5,0.62],[20.0,0.62],[20.5,0.62],[13.4,0.68],[16.3,0.68],[17.8,0.66],[19.3,0.64],[20.8,0.62],[22.0,0.61],[23.0,0.6],[13.0,0.69],[12.6,0.72],[14.9,0.7],[15.2,0.69],[18.2,0.62],[21.4,0.62],[22.7,0.64],[23.3,0.63],[24.2,0.63],[24.0,0.59],[12.3,0.75],[12.9,0.78],[13.3,0.76],[13.6,0.74],[14.0,0.73],[14.3,0.745],[16.0,0.735],[16.6,0.725],[17.2,0.715],[17.8,0.705],[18.4,0.695],[19.0,0.69],[19.6,0.68],[20.2,0.67],[20.8,0.665],[21.4,0.655],[22.0,0.65],[22.6,0.645],[23.2,0.64],[23.8,0.635],[24.4,0.625],[25.0,0.62],[12.8,0.64],[13.3,0.62],[13.9,0.61],[14.6,0.625],[15.2,0.62],[15.8,0.6],[16.4,0.62],[17.0,0.62],[17.6,0.62],[18.2,0.595],[18.8,0.615],[19.4,0.63],[20.0,0.61],[20.6,0.63],[21.2,0.62],[21.8,0.61],[22.4,0.615],[23.0,0.585],[23.6,0.59],[24.2,0.58],[24.6,0.6],[25.0,0.59],[21.0,0.645],[22.0,0.635],[18.7,0.65],[19.9,0.645],[17.3,0.665],[16.7,0.67],[13.6,0.665]];

const uCaPoints = [[12.8,2.4],[13.1,2.38],[13.4,2.4],[13.7,2.35],[14.0,2.38],[14.3,2.32],[13.0,2.3],[13.3,2.25],[14.6,2.3],[14.9,2.25],[15.2,2.2],[15.5,2.15],[15.8,2.2],[16.1,2.15],[16.4,2.1],[16.7,2.05],[17.0,2.0],[17.3,1.95],[17.6,1.9],[17.9,1.88],[18.2,1.85],[18.5,1.82],[18.8,1.8],[19.1,1.75],[19.4,1.78],[19.7,1.72],[20.0,1.7],[20.3,1.68],[20.6,1.65],[20.9,1.7],[21.2,1.68],[21.5,1.62],[21.8,1.58],[22.1,1.55],[22.4,1.5],[22.7,1.45],[23.0,1.4],[23.3,1.35],[23.6,1.3],[23.9,1.25],[24.2,1.2],[24.5,1.15],[24.8,1.12],[25.1,1.1],[25.4,1.08],[25.7,1.05],[26.0,1.1],[26.2,1.05],[26.3,1.0],[25.9,0.98],[12.5,2.0],[12.8,2.05],[13.1,2.0],[12.6,1.95],[13.4,1.95],[13.7,2.02],[14.0,2.0],[14.3,1.95],[14.6,1.9],[14.9,1.85],[15.2,1.82],[15.5,1.78],[15.8,1.75],[16.1,1.72],[16.4,1.7],[16.7,1.75],[17.0,1.72],[17.3,1.68],[17.6,1.65],[17.9,1.6],[18.2,1.62],[18.5,1.58],[18.8,1.6],[19.1,1.55],[19.4,1.58],[19.7,1.52],[20.0,1.5],[20.3,1.55],[20.6,1.5],[20.9,1.45],[21.2,1.48],[21.5,1.42],[21.8,1.45],[22.1,1.6],[22.4,1.65],[22.0,1.7],[21.7,1.75],[13.2,1.85],[13.8,1.8],[14.2,1.75],[14.5,1.68],[15.0,1.62],[15.5,1.58],[16.0,1.5],[16.4,1.45],[16.8,1.38],[17.2,1.32],[17.6,1.25],[18.0,1.2],[18.4,1.15],[18.8,1.12],[19.2,1.1],[19.6,1.05],[20.0,1.08],[20.4,1.02],[20.8,1.05],[21.2,1.02],[21.6,1.0],[22.0,1.05],[22.4,1.0],[22.8,1.02],[23.2,1.0],[23.6,1.05],[24.0,1.0],[24.4,1.02],[24.8,1.0],[25.2,1.02],[25.6,1.12],[25.0,1.2],[24.6,1.3],[24.2,1.38],[23.8,1.45],[23.5,1.5],[17.5,1.5],[18.0,1.45],[18.6,1.4],[19.0,1.35],[19.5,1.3],[15.3,2.05],[16.0,1.98],[16.6,1.9],[17.2,1.82],[18.0,1.75],[19.0,1.68],[20.2,1.6],[14.0,2.15],[15.0,2.1],[13.5,2.3],[14.8,2.35],[15.6,2.28],[16.2,2.25],[12.7,2.18],[13.6,2.12],[17.6,2.05],[18.6,1.95],[19.8,1.85],[20.6,1.78],[21.4,1.8],[22.6,1.72],[23.2,1.6],[24.0,1.55],[24.8,1.42],[25.4,1.3],[26.0,1.2],[16.5,1.6],[17.0,1.55],[15.7,1.4],[17.9,1.05],[18.5,1.0],[19.3,0.98],[20.3,0.96],[21.0,1.1],[22.5,1.1],[23.8,1.12],[25.0,0.97],[23.0,1.2],[21.8,1.25],[20.5,1.3],[19.8,1.4],[18.3,1.3]];

// regression fits (slope, intercept, R²) and fitted temperature range
const baCaFit = {slope:-0.1017, intercept:7.5361, r2:"0.673", text:"y = -0.1017x + 7.5361"};
const srCaFit = {slope:-0.0887, intercept:11.381, r2:"0.6566", text:"y = -0.0887x + 11.381"};
const bCaFit  = {slope:-0.0095, intercept:0.8151, r2:"0.5402", text:"y = -0.0095x + 0.8151"};
const uCaFit  = {slope:-0.0886, intercept:3.2806, r2:"0.7212", text:"y = -0.0886x + 3.2806"};
const fitRange = [12, 26.5];
const tempTicks = [0,5,10,15,20,25,30];

// ---------- drawing ----------
const svg = d3.select("#chart");
const FONT = "'Liberation Sans', Arial, sans-serif";
const x = d3.scaleLinear().domain([1993, 2005]).range([85, 993]);

const panels = [
  {name:"SST", data:sstSeries, color:"#7d7d7d", top:20, bottom:220, domain:[30,10], curve:d3.curveLinear,
   left:null, rightAt:sstTicks, rightLabels:sstTicks.map(String), rightTitle:"SST (°C)"},
  {name:"Ba/Ca", data:baCaSeries, color:"#3db3ad", top:227.5, bottom:426.5, domain:[4.5,7.5], curve:d3.curveMonotoneX,
   left:baCaTicks, leftFmt:d3.format("d"), leftTitle:"Ba/Ca (μmol/mol)",
   rightAt:baCaSstAt, rightLabels:baCaSstLabels, rightTitle:"Ba/Ca derived SST (°C)"},
  {name:"B/Ca", data:bCaSeries, color:"#c1614f", top:435, bottom:640, domain:[0.35,0.85], curve:d3.curveMonotoneX,
   left:bCaTicks, leftFmt:d3.format(".1f"), leftTitle:"B/Ca (mmol/mol)",
   rightAt:bCaSstAt, rightLabels:bCaSstLabels, rightTitle:"B/Ca derived SST (°C)"},
  {name:"Sr/Ca", data:srCaSeries, color:"#3fa4d2", top:647.5, bottom:850, domain:[8.5,10.8], curve:d3.curveMonotoneX,
   left:srCaTicks, leftFmt:d3.format(".1f"), leftTitle:"Sr/Ca (mmol/mol)",
   rightAt:srCaSstAt, rightLabels:srCaSstLabels, rightTitle:"Sr/Ca derived SST (°C)"},
  {name:"U/Ca", data:uCaSeries, color:"#8a4b8d", top:857.5, bottom:1058.5, domain:[0.5,2.8], curve:d3.curveMonotoneX,
   left:uCaTicks, leftFmt:d3.format(".1f"), leftTitle:"U/Ca (μmol/mol)",
   rightAt:uCaSstAt, rightLabels:uCaSstLabels, rightTitle:"U/Ca derived SST (°C)"}
];

svg.append("text").attr("x", 42).attr("y", 48).attr("font-family", FONT).attr("font-size", 24).text("A");

function styleAxis(g) {
  g.selectAll("path.domain").remove();
  g.selectAll("line").attr("stroke", "#333").attr("stroke-width", 1.2);
  g.selectAll("text").attr("font-family", FONT).attr("font-size", 16).attr("fill", "#111");
}

// dashed event markers spanning all panels
svg.append("g").selectAll("line").data(eventDates).join("line")
  .attr("x1", d => x(d)).attr("x2", d => x(d))
  .attr("y1", 20).attr("y2", 1058.5)
  .attr("stroke", "#c3c3c3").attr("stroke-width", 2.6).attr("stroke-dasharray", "15,6");

panels.forEach((p, i) => {
  const y = d3.scaleLinear().domain(p.domain).range([p.top, p.bottom]);
  const g = svg.append("g");

  // series
  g.append("path").datum(p.data)
    .attr("fill", "none").attr("stroke", p.color).attr("stroke-width", p.name === "SST" ? 1.1 : 1.4)
    .attr("stroke-linejoin", "round")
    .attr("d", d3.line().x(d => x(d[0])).y(d => y(d[1])).curve(p.curve));

  // year ticks, inward from the top and bottom edges
  g.append("g").attr("transform", `translate(0,${p.top})`)
    .call(d3.axisBottom(x).tickValues(yearTicks).tickSize(6).tickFormat("")).call(styleAxis);
  g.append("g").attr("transform", `translate(0,${p.bottom})`)
    .call(d3.axisTop(x).tickValues(yearTicks).tickSize(6).tickFormat("")).call(styleAxis);

  if (p.left) {
    g.append("g").attr("transform", `translate(${x.range()[0]},0)`)
      .call(d3.axisLeft(y).tickValues(p.left).tickFormat(p.leftFmt).tickSize(6).tickPadding(6)).call(styleAxis);
    g.append("text").attr("transform", `translate(25,${(p.top + p.bottom) / 2}) rotate(-90)`)
      .attr("text-anchor", "middle").attr("dominant-baseline", "middle")
      .attr("font-family", FONT).attr("font-size", 16).attr("fill", "#111").text(p.leftTitle);
  }
  const rl = p.rightLabels;
  g.append("g").attr("transform", `translate(${x.range()[1]},0)`)
    .call(d3.axisRight(y).tickValues(p.rightAt).tickFormat((d, k) => rl[k]).tickSize(7).tickPadding(9)).call(styleAxis);
  g.append("text").attr("transform", `translate(1052,${(p.top + p.bottom) / 2}) rotate(-90)`)
    .attr("text-anchor", "middle").attr("dominant-baseline", "middle")
    .attr("font-family", FONT).attr("font-size", 16).attr("fill", "#111").text(p.rightTitle);

  // frame
  g.append("rect").attr("x", x.range()[0]).attr("y", p.top)
    .attr("width", x.range()[1] - x.range()[0]).attr("height", p.bottom - p.top)
    .attr("fill", "none").attr("stroke", "#333").attr("stroke-width", 1.3);

  g.append("text").attr("x", 93).attr("y", p.top + 27)
    .attr("font-family", FONT).attr("font-size", 19.5).attr("fill", "#111").text(p.name);

  if (i === panels.length - 1) {
    g.append("g").attr("transform", `translate(0,${p.bottom})`)
      .call(d3.axisBottom(x).tickValues(yearTicks).tickFormat(d3.format("d")).tickSize(5).tickPadding(14)).call(styleAxis);
    g.append("text").attr("x", 539).attr("y", 1115).attr("text-anchor", "middle")
      .attr("font-family", FONT).attr("font-size", 17).attr("fill", "#111").text("Year");
  }
});

// ---------- Panel B ----------
svg.append("text").attr("x", 43).attr("y", 1181).attr("font-family", FONT).attr("font-size", 24).text("B");

const diamond = "M0,-4.6L4.6,0L0,4.6L-4.6,0Z";

function scatter(cfg) {
  const xs = d3.scaleLinear().domain([0, 30]).range([cfg.x0, cfg.x1]);
  const ys = d3.scaleLinear().domain(cfg.yDomain).range([cfg.y0, cfg.y1]);
  const g = svg.append("g");
  const small = "'Liberation Sans', Arial, sans-serif";

  g.append("g").selectAll("path").data(cfg.points).join("path")
    .attr("d", diamond).attr("fill", cfg.color)
    .attr("transform", d => `translate(${xs(d[0])},${ys(d[1])})`);

  g.append("line")
    .attr("x1", xs(fitRange[0])).attr("y1", ys(cfg.fit.slope * fitRange[0] + cfg.fit.intercept))
    .attr("x2", xs(fitRange[1])).attr("y2", ys(cfg.fit.slope * fitRange[1] + cfg.fit.intercept))
    .attr("stroke", "#111").attr("stroke-width", 1);

  const ax = g.append("g").attr("transform", `translate(0,${cfg.y0})`)
    .call(d3.axisBottom(xs).tickValues(tempTicks).tickSize(4).tickPadding(6));
  const ay = g.append("g").attr("transform", `translate(${cfg.x0},0)`)
    .call(d3.axisLeft(ys).tickValues(cfg.yTicks).tickFormat(d3.format("~g")).tickSize(4).tickPadding(5));
  [ax, ay].forEach(a => {
    a.select("path.domain").attr("stroke", "#666").attr("stroke-width", 1.5);
    a.selectAll("line").attr("stroke", "#666").attr("stroke-width", 1.2);
    a.selectAll("text").attr("font-family", small).attr("font-size", 13).attr("fill", "#222");
  });

  g.append("text").attr("x", (cfg.x0 + cfg.x1) / 2 + 1).attr("y", cfg.y0 + 43).attr("text-anchor", "middle")
    .attr("font-family", small).attr("font-size", 13.5).attr("fill", "#222").text("Temperature (°C)");
  g.append("text").attr("transform", `translate(${cfg.x0 - 44},${(cfg.y0 + cfg.y1) / 2}) rotate(-90)`)
    .attr("text-anchor", "middle").attr("dominant-baseline", "middle")
    .attr("font-family", small).attr("font-size", 13).attr("fill", "#222").text(cfg.yTitle);
  g.append("text").attr("x", cfg.x0 + 13).attr("y", cfg.y1 + 15)
    .attr("font-family", "'Open Sans', 'Noto Sans', sans-serif").attr("font-size", 20).attr("fill", "#111").text(cfg.title);
  g.append("text").attr("x", cfg.x0 + 8).attr("y", cfg.eqY)
    .attr("font-family", small).attr("font-size", 13).attr("fill", "#222").text(cfg.fit.text);
  const r = g.append("text").attr("x", cfg.x0 + 41).attr("y", cfg.eqY + 20)
    .attr("font-family", small).attr("font-size", 13).attr("fill", "#222");
  r.append("tspan").text("R");
  r.append("tspan").attr("font-size", 8).attr("dy", -6).text("2");
  r.append("tspan").attr("dy", 6).text(" = " + cfg.fit.r2);
}

scatter({title:"Ba/Ca", points:baCaPoints, color:"#007a72", fit:baCaFit, x0:180, x1:514, y0:1396.7, y1:1155,
  yDomain:[4,7], yTicks:[4,4.5,5,5.5,6,6.5,7], yTitle:"Ba/Ca (μmol/mol)", eqY:1360});
scatter({title:"Sr/Ca", points:srCaPoints, color:"#99c9fb", fit:srCaFit, x0:623.3, x1:949.3, y0:1396.7, y1:1155,
  yDomain:[8.8,10.8], yTicks:[8.8,9,9.2,9.4,9.6,9.8,10,10.2,10.4,10.6,10.8], yTitle:"Sr/Ca (mmol/mol)", eqY:1362});
scatter({title:"B/Ca", points:bCaPoints, color:"#8b0c02", fit:bCaFit, x0:180, x1:514, y0:1702, y1:1480.5,
  yDomain:[0.4,1.0], yTicks:[0.4,0.5,0.6,0.7,0.8,0.9,1], yTitle:"B/Ca (mmol/mol)", eqY:1669});
scatter({title:"U/Ca", points:uCaPoints, color:"#7f1b7c", fit:uCaFit, x0:623.3, x1:949.3, y0:1702, y1:1480.5,
  yDomain:[0,3], yTicks:[0,0.5,1,1.5,2,2.5,3], yTitle:"U/Ca (μmol/mol)", eqY:1669});
</script></body></html>
